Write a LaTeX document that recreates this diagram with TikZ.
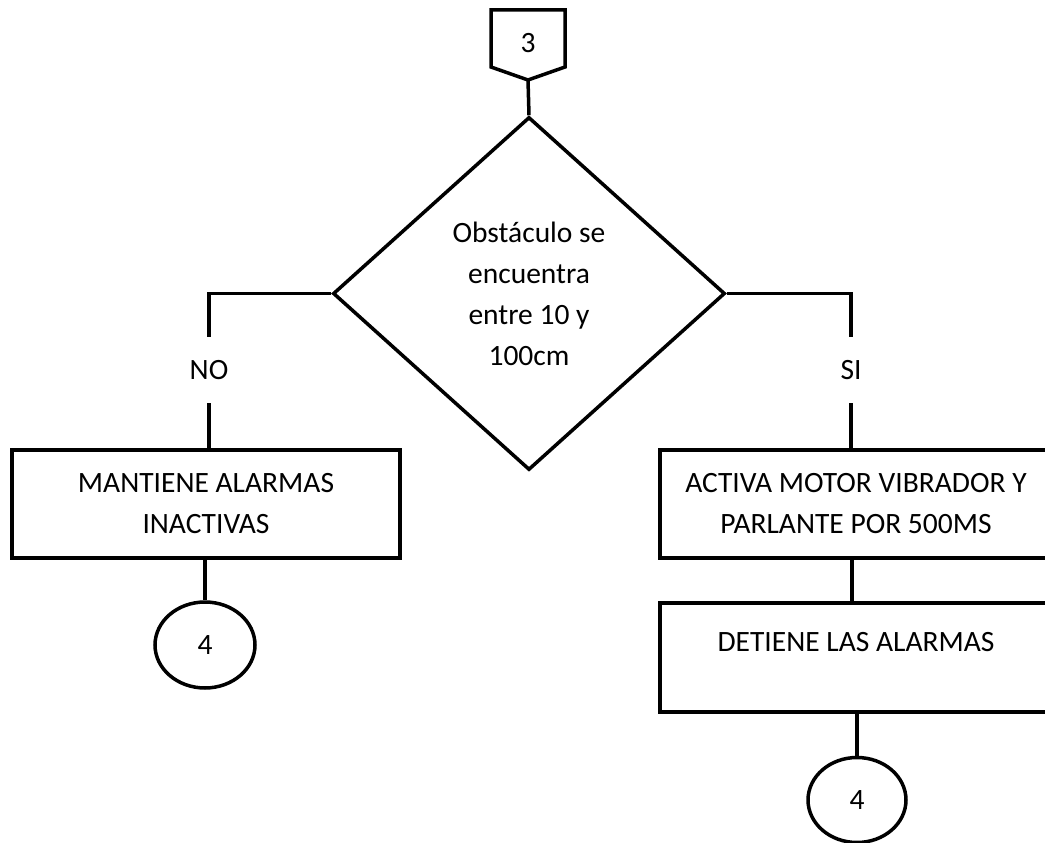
\documentclass[tikz,border=0pt]{standalone}
\usepackage{fontspec}
\setmainfont{Carlito}
\usepackage{tikz}
\usetikzlibrary{shapes,positioning}

\tikzset{
  linea/.style={line width=3.5pt},
  caja/.style={draw, line width=3.5pt, minimum height=108pt, inner sep=0pt, align=center},
  decision/.style={draw, diamond, line width=3.5pt, minimum width=392pt, minimum height=353pt, inner sep=0pt, align=center},
  conector/.style={draw, ellipse, line width=3.5pt, minimum width=100pt, minimum height=86pt, inner sep=0pt},
  etiqueta/.style={minimum height=66pt, inner sep=0pt}
}

\begin{document}
\begin{tikzpicture}[x=1pt,y=-1pt,font=\fontsize{29.5}{41}\selectfont]

\useasboundingbox (0,0) rectangle (1045,843);
\clip (0,0) rectangle (1045,843);

% Conector de página 3
\draw[linea] (491,10) -- (565,10) -- (565,67) -- (528,80) -- (491,67) -- cycle;
\node (c3) at (528,43) {3};
\coordinate (p3) at (528,80);

% Decisión
\node[decision] (dec) at (529,293.5) {Obstáculo se\\encuentra\\entre 10 y\\100cm};
\draw[linea] (p3) -- (dec.north);

% Rama NO
\node[etiqueta] (no) at (209,370) {NO};
\node[caja, minimum width=388pt] (mant) at (206,504) {MANTIENE ALARMAS\\INACTIVAS};
\node[conector] (fin1) at (205,645) {4};
\draw[linea] (dec.west) -| (no.north);
\draw[linea] (no.south) -- (no.south |- mant.north);
\draw[linea] (fin1.north |- mant.south) -- (fin1.north);

% Rama SI
\node[etiqueta] (si) at (851,370) {SI};
\node[caja, minimum width=392pt] (activa) at (856,504) {ACTIVA MOTOR VIBRADOR Y\\PARLANTE POR 500MS};
\node[caja, minimum width=392pt, minimum height=109pt, text depth=31pt] (detiene) at (856,657.5) {DETIENE LAS ALARMAS};
\node[conector, minimum width=98pt, minimum height=85pt] (fin2) at (857,800) {4};
\draw[linea] (dec.east) -| (si.north);
\draw[linea] (si.south) -- (si.south |- activa.north);
\draw[linea] (852,558) coordinate (a1) -- (a1 |- detiene.north);
\draw[linea] (fin2.north |- detiene.south) -- (fin2.north);

\end{tikzpicture}
\end{document}
